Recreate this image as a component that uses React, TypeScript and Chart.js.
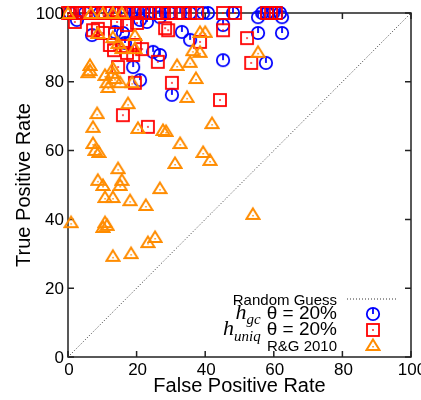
import React, { useEffect, useRef } from "react";
import { Chart, registerables } from "chart.js";
Chart.register(...registerables);

const xTicks = [0, 20, 40, 60, 80, 100];
const yTicks = [0, 20, 40, 60, 80, 100];
const xTitle = "False Positive Rate";
const yTitle = "True Positive Rate";
const diagX = [0, 100];
const diagY = [0, 100];

// h_gc theta = 20%
const gcPoints: [number, number][] = [
  [0.6, 100], [5, 100], [9.3, 100], [13.7, 100], [16.6, 100], [19.5, 100], [21.9, 100], [23.9, 100],
  [26.8, 100], [29.7, 100], [32.7, 100], [35.6, 100], [39.4, 100], [40.8, 100], [48.1, 100], [56.6, 100],
  [58, 100], [59.8, 100], [61.8, 100],
  [2.6, 98], [7, 93.6], [13.7, 94.5], [16, 94.2], [16.6, 91.3], [24.8, 88.7], [26.8, 87.8], [19, 84.3],
  [21, 80.5], [30.3, 76.2], [33.2, 94.5], [35.6, 92.2], [45.2, 86.3], [45.2, 96.5], [21, 98], [26.8, 98.8],
  [55.4, 98.8], [62.4, 98.8], [55.4, 94.2], [62.4, 94.2], [57.7, 85.5], [23, 97.4],
];

// h_uniq theta = 20%
const uniqPoints: [number, number][] = [
  [0, 100], [0.6, 100], [2.6, 100], [4.7, 100], [6.7, 100], [8.7, 100], [10.8, 100], [12.8, 100],
  [14.9, 100], [16.9, 100], [19, 100], [21, 100], [23, 100], [25.4, 100], [27.4, 100], [29.4, 100],
  [31.5, 100], [33.5, 100], [35.6, 100], [37.6, 100], [45.2, 100], [48.7, 100], [58, 100], [59.2, 100],
  [60.6, 100],
  [2, 97.4], [7.3, 95], [8.7, 95.4], [10.2, 94.2], [14.3, 97.4], [17.2, 96.5], [20.1, 97.1], [12.2, 90.7],
  [13.4, 89.2], [16, 90.4], [17.2, 88.4], [19.5, 90.7], [21.6, 89.5], [19, 87.8], [14.6, 84.3], [19.5, 79.7],
  [26.2, 85.8], [28.3, 95.6], [29.2, 95], [30.3, 79.7], [38.5, 91.6], [45.2, 95], [44.3, 74.7], [16, 70.3],
  [23.3, 66.9], [52.2, 92.7], [53.4, 85.5],
];

// R&G 2010
const rgPoints: [number, number][] = [
  [0, 100], [6.7, 100], [10.2, 100], [13.1, 100], [15.7, 100],
  [8.7, 94.2], [13.1, 93], [14.6, 91.3], [15.7, 89.8], [19.5, 93.6], [19.5, 89.8], [38.5, 94.5], [40, 94.5],
  [36.4, 89.2], [38.5, 88.7], [35.6, 85.8], [31.8, 84.9], [37.3, 81.1], [34.7, 75.6], [55.4, 88.7],
  [6.4, 84.9], [6.4, 83.4], [5.8, 82.8], [10.8, 82], [13.1, 82.6], [13.7, 81.1], [11.4, 79.9], [11.7, 78.5],
  [15.2, 79.9], [18.7, 79.9], [13.1, 84], [17.5, 73.8], [8.5, 70.9],
  [7.3, 66.9], [7.3, 62.2], [9, 59.6], [7.9, 60.2], [14.6, 54.9], [8.7, 51.5], [10.2, 50], [15.7, 51.5],
  [15.2, 50], [10.8, 46.5], [13.1, 46.5], [18.1, 45.6], [22.7, 44.2], [26.8, 49.1], [31.2, 56.4], [32.7, 62.2],
  [39.4, 59.6], [41.4, 57.3], [42, 68], [20.4, 66.6], [27.7, 66], [28.6, 65.7], [53.9, 41.6], [0.9, 39.2],
  [10.8, 39.2], [10.2, 37.8], [11.4, 38.4], [23.3, 33.4], [25.4, 34.9], [13.1, 29.4], [18.4, 30.2],
];

const legendLabels = ["Random Guess", "θ = 20%", "θ = 20%", "R&G 2010"];

const SANS = '"Liberation Sans", Arial, Helvetica, sans-serif';
const SERIF = '"Liberation Serif", "Times New Roman", serif';

function makeCircle(): HTMLCanvasElement {
  const c = document.createElement("canvas");
  c.width = 16; c.height = 16;
  const g = c.getContext("2d")!;
  g.strokeStyle = "#0000ff"; g.lineWidth = 1.8;
  g.beginPath(); g.arc(8, 8, 6.2, 0, Math.PI * 2); g.stroke();
  g.beginPath(); g.moveTo(8, 8); g.lineTo(8, 2); g.stroke();
  return c;
}
function makeSquare(): HTMLCanvasElement {
  const c = document.createElement("canvas");
  c.width = 16; c.height = 16;
  const g = c.getContext("2d")!;
  g.strokeStyle = "#ff0000"; g.lineWidth = 1.8;
  g.strokeRect(2, 2, 12, 12);
  g.fillStyle = "#ff0000"; g.fillRect(7.2, 7.2, 1.6, 1.6);
  return c;
}
function makeTriangle(): HTMLCanvasElement {
  const c = document.createElement("canvas");
  c.width = 16; c.height = 16;
  const g = c.getContext("2d")!;
  g.strokeStyle = "#ff8c00"; g.lineWidth = 2; g.lineJoin = "miter";
  g.beginPath(); g.moveTo(8, 2.5); g.lineTo(14.5, 13); g.lineTo(1.5, 13); g.closePath(); g.stroke();
  g.fillStyle = "#ff8c00"; g.fillRect(7.3, 9, 1.5, 1.5);
  return c;
}

export default function App() {
  const ref = useRef<HTMLCanvasElement | null>(null);
  useEffect(() => {
    document.body.style.margin = "0";
    const circ = makeCircle();
    const sq = makeSquare();
    const tri = makeTriangle();
    const frame = {
      id: "frame",
      beforeDatasetsDraw(chart: any) {
        const { ctx, chartArea } = chart;
        const { left, right, top, bottom } = chartArea;
        const xs = chart.scales.x, ys = chart.scales.y;
        ctx.save();
        ctx.strokeStyle = "#222"; ctx.lineWidth = 1.5;
        ctx.strokeRect(left, top, right - left, bottom - top);
        ctx.beginPath();
        for (const v of xTicks) {
          const p = xs.getPixelForValue(v);
          ctx.moveTo(p, bottom); ctx.lineTo(p, bottom - 6);
          ctx.moveTo(p, top); ctx.lineTo(p, top + 6);
        }
        for (const v of yTicks) {
          const p = ys.getPixelForValue(v);
          ctx.moveTo(left, p); ctx.lineTo(left + 6, p);
          ctx.moveTo(right, p); ctx.lineTo(right - 6, p);
        }
        ctx.stroke();
        ctx.restore();
      },
      afterDraw(chart: any) {
        const { ctx, chartArea } = chart;
        const { left, right, top, bottom } = chartArea;
        const xs = chart.scales.x, ys = chart.scales.y;
        ctx.save();
        ctx.fillStyle = "#000";
        ctx.font = `17px ${SANS}`;
        ctx.textAlign = "center"; ctx.textBaseline = "alphabetic";
        for (const v of xTicks) ctx.fillText(String(v), xs.getPixelForValue(v) + 1, bottom + 18);
        ctx.textAlign = "right"; ctx.textBaseline = "middle";
        for (const v of yTicks) ctx.fillText(String(v), left - 4, ys.getPixelForValue(v) + 1);
        ctx.font = `20px ${SANS}`;
        ctx.textAlign = "center"; ctx.textBaseline = "alphabetic";
        ctx.fillText(xTitle, (left + right) / 2, bottom + 35);
        ctx.save();
        ctx.translate(30, (top + bottom) / 2);
        ctx.rotate(-Math.PI / 2);
        ctx.fillText(yTitle, 0, 0);
        ctx.restore();

        // legend
        const tx = right - 74;
        const mx = right - 38;
        ctx.textAlign = "right";
        ctx.font = `15px ${SANS}`;
        ctx.fillText(legendLabels[0], tx, bottom - 52);
        ctx.save();
        ctx.strokeStyle = "#333"; ctx.lineWidth = 1; ctx.setLineDash([1, 2]);
        ctx.beginPath(); ctx.moveTo(right - 64, bottom - 58); ctx.lineTo(right - 13, bottom - 58); ctx.stroke();
        ctx.restore();
        // h_gc
        ctx.font = `19px ${SANS}`;
        ctx.fillText(legendLabels[1], tx, bottom - 38);
        let w = ctx.measureText(legendLabels[1]).width;
        ctx.font = `italic 15px ${SERIF}`;
        ctx.fillText("gc", tx - w - 6, bottom - 33);
        let w2 = ctx.measureText("gc").width;
        ctx.font = `italic 22px ${SERIF}`;
        ctx.fillText("h", tx - w - 6 - w2, bottom - 38);
        // h_uniq
        ctx.font = `19px ${SANS}`;
        ctx.fillText(legendLabels[2], tx, bottom - 22);
        w = ctx.measureText(legendLabels[2]).width;
        ctx.font = `italic 15px ${SERIF}`;
        ctx.fillText("uniq", tx - w - 6, bottom - 16);
        w2 = ctx.measureText("uniq").width;
        ctx.font = `italic 22px ${SERIF}`;
        ctx.fillText("h", tx - w - 6 - w2, bottom - 22);
        // R&G
        ctx.font = `15px ${SANS}`;
        ctx.fillText(legendLabels[3], tx, bottom - 6);
        ctx.drawImage(circ, mx - 8, bottom - 43 - 8);
        ctx.drawImage(sq, mx - 8, bottom - 27 - 8);
        ctx.drawImage(tri, mx - 8, bottom - 12 - 8);
        ctx.restore();
      },
    };
    const chart = new Chart(ref.current!, {
      type: "scatter",
      data: {
        datasets: [
          {
            label: "R&G 2010",
            data: rgPoints.map(([x, y]) => ({ x, y })),
            pointStyle: tri as any,
            pointRadius: 7,
            clip: false as any,
            order: 1,
          },
          {
            label: "h_uniq",
            data: uniqPoints.map(([x, y]) => ({ x, y })),
            pointStyle: sq as any,
            pointRadius: 7,
            clip: false as any,
            order: 2,
          },
          {
            label: "h_gc",
            data: gcPoints.map(([x, y]) => ({ x, y })),
            pointStyle: circ as any,
            pointRadius: 7,
            clip: false as any,
            order: 3,
          },
          {
            type: "line" as any,
            label: "Random Guess",
            data: diagX.map((x, i) => ({ x, y: diagY[i] })),
            borderColor: "#333",
            borderWidth: 1,
            borderDash: [1, 2],
            pointRadius: 0,
            order: 4,
          } as any,
        ],
      },
      options: {
        animation: false,
        responsive: false,
        devicePixelRatio: window.devicePixelRatio || 1,
        layout: { padding: { left: 68, top: 13, right: 10, bottom: 43 } },
        plugins: { legend: { display: false }, tooltip: { enabled: false } },
        scales: {
          x: { type: "linear", min: 0, max: 100, display: false },
          y: { type: "linear", min: 0, max: 100, display: false },
        },
      },
      plugins: [frame],
    });
    return () => chart.destroy();
  }, []);
  return (
    <div style={{ position: "absolute", left: 0, top: 0, width: 421, height: 400 }}>
      <canvas ref={ref} width={421} height={400} style={{ width: 421, height: 400, display: "block" }} />
    </div>
  );
}
